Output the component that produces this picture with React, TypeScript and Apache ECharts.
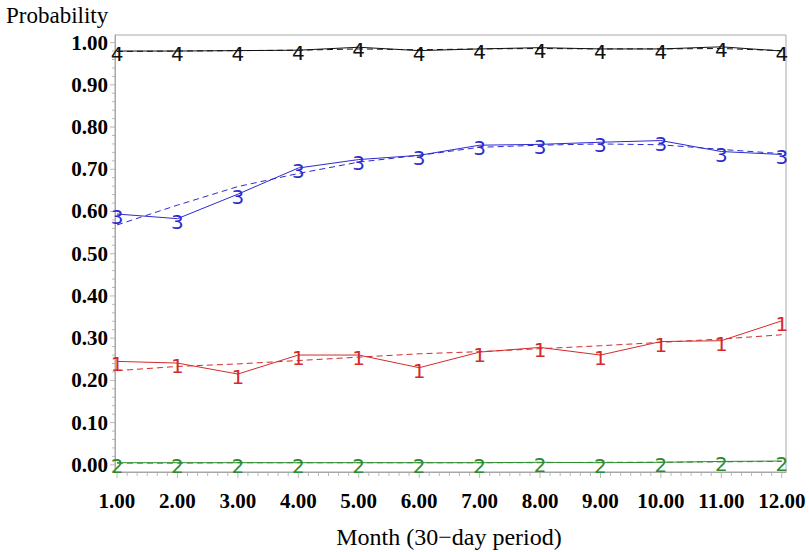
import React, { useEffect, useRef } from "react";
import * as echarts from "echarts";

const months = [1, 2, 3, 4, 5, 6, 7, 8, 9, 10, 11, 12];
const yTicks = [0, 0.1, 0.2, 0.3, 0.4, 0.5, 0.6, 0.7, 0.8, 0.9, 1.0];

const obs1 = [0.245, 0.241, 0.215, 0.26, 0.26, 0.23, 0.267, 0.278, 0.26, 0.292, 0.294, 0.341];
const fit1 = [0.223, 0.233, 0.239, 0.247, 0.255, 0.263, 0.268, 0.275, 0.282, 0.29, 0.298, 0.308];
const obs2 = [0.005, 0.005, 0.005, 0.005, 0.005, 0.005, 0.005, 0.006, 0.005, 0.006, 0.008, 0.009];
const fit2 = [0.004, 0.004, 0.005, 0.005, 0.005, 0.005, 0.005, 0.005, 0.006, 0.006, 0.007, 0.008];
const obs3 = [0.594, 0.583, 0.641, 0.703, 0.723, 0.733, 0.757, 0.759, 0.764, 0.768, 0.742, 0.735];
const fit3 = [0.568, 0.615, 0.659, 0.69, 0.717, 0.733, 0.752, 0.757, 0.76, 0.758, 0.747, 0.737];
const obs4 = [0.98, 0.98, 0.981, 0.982, 0.989, 0.981, 0.985, 0.988, 0.985, 0.985, 0.99, 0.98];
const fit4 = [0.979, 0.98, 0.981, 0.982, 0.985, 0.983, 0.985, 0.986, 0.985, 0.985, 0.986, 0.981];

const RED = "#d42a2a";
const GREEN = "#2e8b2e";
const BLUE = "#2b2bcf";
const BLACK = "#111111";
const GRAY = "#a8a8a8";

const X_MIN = 0.967;
const X_MAX = 12.07;
const Y_MIN = -0.017;
const Y_MAX = 1.018;

const xMinor: number[] = [];
for (let i = 0; i <= 66; i++) {
  if (i % 6 !== 0) xMinor.push(1 + i / 6);
}
const yMinor: number[] = [];
for (let i = 0; i <= 50; i++) {
  if (i % 5 !== 0) yMinor.push(i / 50);
}

function obsSeries(data: number[], color: string, glyph: string) {
  return {
    type: "line",
    data: months.map((m, i) => [m, data[i]]),
    symbol: "circle",
    symbolSize: 1,
    showSymbol: true,
    itemStyle: { color: "rgba(0,0,0,0)" },
    lineStyle: { color, width: 1, type: "solid" },
    label: {
      show: true,
      formatter: glyph,
      position: "inside",
      offset: [0, 3],
      color,
      fontFamily: "Liberation Sans Narrow, DejaVu Sans",
      fontSize: 20,
    },
    silent: true,
    z: 3,
  };
}

function fitSeries(data: number[], color: string) {
  return {
    type: "line",
    data: months.map((m, i) => [m, data[i]]),
    symbol: "none",
    lineStyle: { color, width: 1, type: [6, 4] },
    silent: true,
    z: 2,
  };
}

// outward tick marks drawn as thin rect symbols placed through the axis scales
function tickSeries(values: number[], horizontal: boolean, len: number) {
  return {
    type: "scatter",
    data: values.map((v) => (horizontal ? [v, Y_MIN] : [X_MIN, v])),
    symbol: "rect",
    symbolSize: horizontal ? [1, len] : [len, 1],
    symbolOffset: horizontal ? [0, len / 2] : [-len / 2, 0],
    itemStyle: { color: GRAY },
    silent: true,
    clip: false,
    z: 1,
  };
}

const tickFont = {
  fontFamily: "Liberation Serif",
  fontWeight: "bold",
  fontSize: 21,
  color: "#000",
};

const option = {
  animation: false,
  grid: {
    left: 115,
    top: 35,
    right: 23,
    bottom: 80,
    show: true,
    borderColor: GRAY,
    borderWidth: 1,
    backgroundColor: "#fff",
  },
  xAxis: {
    type: "value",
    min: X_MIN,
    max: X_MAX,
    axisLine: { show: true, onZero: false, lineStyle: { color: GRAY } },
    axisTick: { show: false },
    axisLabel: {
      ...tickFont,
      customValues: months,
      margin: 18,
      formatter: (v: number) => v.toFixed(2),
    },
    splitLine: { show: false },
  },
  yAxis: {
    type: "value",
    min: Y_MIN,
    max: Y_MAX,
    axisLine: { show: true, onZero: false, lineStyle: { color: GRAY } },
    axisTick: { show: false },
    axisLabel: {
      ...tickFont,
      customValues: yTicks,
      margin: 7,
      formatter: (v: number) => v.toFixed(2),
    },
    splitLine: { show: false },
  },
  graphic: [
    {
      type: "text",
      left: 6,
      top: 4,
      style: {
        text: "Probability",
        fontFamily: "Liberation Serif",
        fontSize: 23,
        fill: "#000",
      },
    },
    {
      type: "text",
      x: 449,
      y: 537,
      style: {
        text: "Month (30−day period)",
        fontFamily: "Liberation Serif",
        fontSize: 24,
        fill: "#000",
        align: "center",
        verticalAlign: "middle",
      },
    },
  ],
  series: [
    tickSeries(months, true, 6),
    tickSeries(xMinor, true, 4),
    tickSeries(yTicks, false, 5),
    tickSeries(yMinor, false, 3),
    fitSeries(fit2, GREEN),
    obsSeries(obs2, GREEN, "2"),
    fitSeries(fit1, RED),
    obsSeries(obs1, RED, "1"),
    fitSeries(fit3, BLUE),
    obsSeries(obs3, BLUE, "3"),
    fitSeries(fit4, BLACK),
    obsSeries(obs4, BLACK, "4"),
  ],
};

export default function App() {
  const ref = useRef<HTMLDivElement>(null);
  useEffect(() => {
    document.body.style.margin = "0";
    const chart = echarts.init(ref.current as HTMLDivElement, null, { renderer: "svg" });
    chart.setOption(option as any);
    return () => chart.dispose();
  }, []);
  return <div ref={ref} style={{ width: 809, height: 552 }} />;
}
